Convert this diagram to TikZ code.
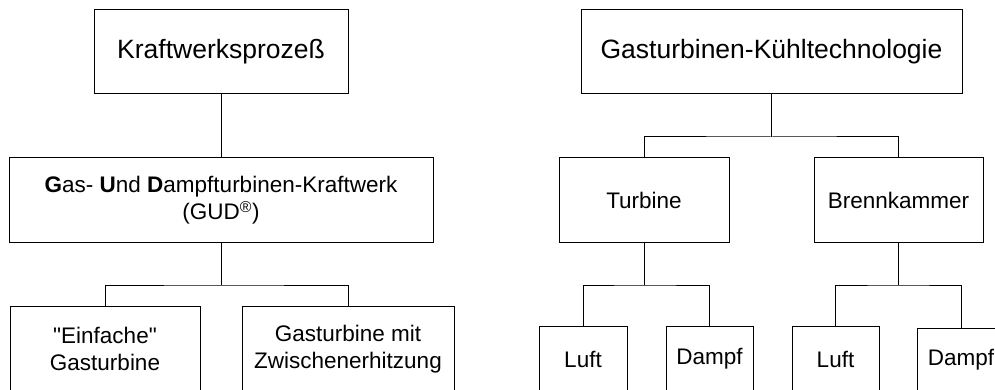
\documentclass[tikz,border=0pt]{standalone}
\usepackage{fontspec}
\setmainfont{Liberation Sans}[Ligatures=TeXOff]

\begin{document}
\begin{tikzpicture}[x=1pt,y=-1pt,
    box/.style={draw=black, line width=1pt, inner sep=0pt, align=center, font=\fontsize{22.5}{27.5}\selectfont},
    bigbox/.style={box, font=\fontsize{26.5}{30}\selectfont},
    link/.style={draw=black, line width=1pt}]
      \useasboundingbox (0,0) rectangle (995,390);
      \clip (0,0) rectangle (995,390);
      \node[bigbox, minimum width=254pt, minimum height=84pt] (kraft) at (221,52) {Kraftwerksprozeß};
      \node[box, minimum width=424pt, minimum height=84pt] (gud) at (221,200) {\textbf{G}as- \textbf{U}nd \textbf{D}ampfturbinen-Kraftwerk\\(GUD\textsuperscript{®})};
      \node[box, minimum width=190pt, minimum height=86pt] (einfach) at (105,349) {"Einfache"\\Gasturbine};
      \node[box, minimum width=212pt, minimum height=86pt] (zwisch) at (348,349) {Gasturbine mit\\Zwischenerhitzung};
      \node[bigbox, minimum width=381pt, minimum height=84pt] (gkt) at (771.5,52) {Gasturbinen-Kühltechnologie};
      \node[box, minimum width=170pt, minimum height=84pt] (turb) at (644,200) {Turbine};
      \node[box, minimum width=169pt, minimum height=84pt] (brenn) at (898.5,200) {Brennkammer};
      \node[box, minimum width=88pt, minimum height=66pt] (luftT) at (583,359) {Luft};
      \node[box, minimum width=87pt, minimum height=66pt] (dampfT) at (709.5,359) {Dampf};
      \node[box, minimum width=87pt, minimum height=66pt] (luftB) at (835.5,359) {Luft};
      \node[box, minimum width=88pt, minimum height=64pt] (dampfB) at (961,360) {Dampf};
      \coordinate (gudbus) at (221,285);
      \coordinate (gktbus) at (771.5,137);
      \coordinate (turbbus) at (644,285);
      \coordinate (brennbus) at (898.5,285);
      \draw[link] (kraft) -- (gud);
      \draw[link] (gud) -- (gudbus);
      \draw[link] (einfach) |- (gudbus) -| (zwisch);
      \draw[link] (gkt) -- (gktbus);
      \draw[link] (turb) |- (gktbus) -| (brenn);
      \draw[link] (turb) -- (turbbus);
      \draw[link] (luftT) |- (turbbus) -| (dampfT);
      \draw[link] (brenn) -- (brennbus);
      \draw[link] (luftB) |- (brennbus) -| (dampfB);
    \end{tikzpicture}
\end{document}
